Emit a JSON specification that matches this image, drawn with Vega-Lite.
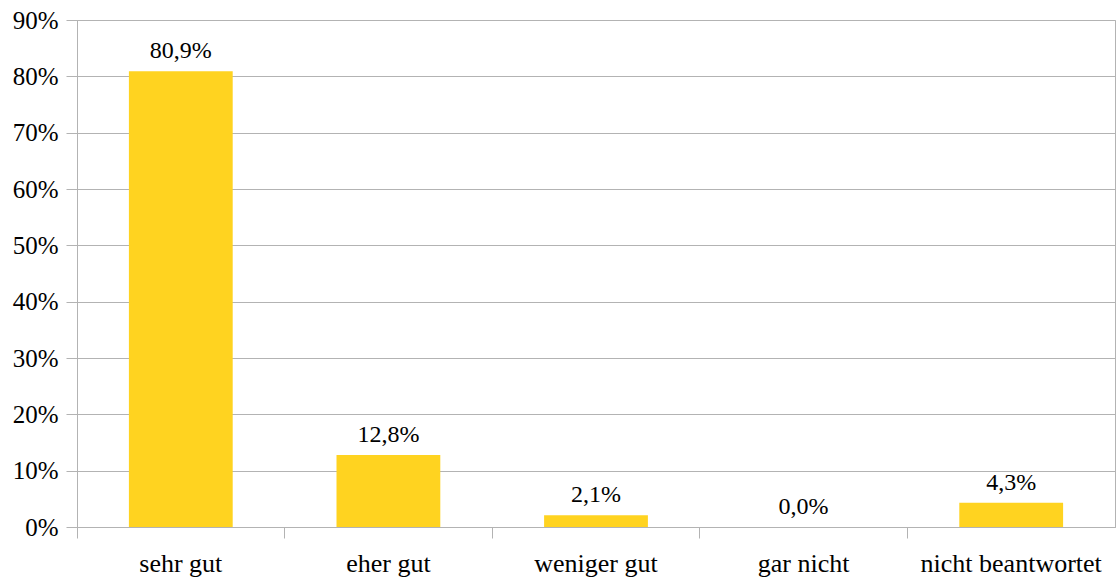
{
  "$schema": "https://vega.github.io/schema/vega-lite/v6.json",
  "width": 1038,
  "height": 507,
  "autosize": "none",
  "padding": {"left": 77, "top": 20, "right": 2, "bottom": 52},
  "background": "white",
  "data": {
    "values": [
      {"antwort": "sehr gut", "anteil": 0.809},
      {"antwort": "eher gut", "anteil": 0.128},
      {"antwort": "weniger gut", "anteil": 0.021},
      {"antwort": "gar nicht", "anteil": 0.0},
      {"antwort": "nicht beantwortet", "anteil": 0.043}
    ]
  },
  "encoding": {
    "x": {
      "field": "antwort",
      "type": "nominal",
      "sort": null,
      "title": null,
      "scale": {"paddingInner": 0.5, "paddingOuter": 0.25},
      "axis": {
        "labelAngle": 0,
        "bandPosition": -0.5,
        "tickSize": 11,
        "labelPadding": 12,
        "labelBaseline": "top",
        "labelFontSize": 26,
        "labelLimit": 400,
        "labelOverlap": false,
        "grid": false
      }
    },
    "y": {
      "field": "anteil",
      "type": "quantitative",
      "title": null,
      "scale": {"domain": [0, 0.9], "nice": false},
      "axis": {
        "format": ".0%",
        "values": [0, 0.1, 0.2, 0.3, 0.4, 0.5, 0.6, 0.7, 0.8, 0.9],
        "tickSize": 11,
        "labelPadding": 8,
        "labelFontSize": 25,
        "grid": true
      }
    }
  },
  "layer": [
    {"mark": {"type": "bar", "color": "#ffd320"}},
    {
      "mark": {"type": "text", "baseline": "alphabetic", "dy": -13, "font": "Liberation Serif", "fontSize": 24, "color": "#000000"},
      "encoding": {"text": {"field": "anteil", "type": "quantitative", "format": ".1%"}}
    }
  ],
  "config": {
    "locale": {
      "number": {"decimal": ",", "thousands": ".", "grouping": [3], "currency": ["", " €"]}
    },
    "view": {"stroke": "#b3b3b3", "strokeWidth": 1},
    "axis": {
      "labelFont": "Liberation Serif",
      "labelColor": "#000000",
      "domainColor": "#b3b3b3",
      "tickColor": "#b3b3b3",
      "gridColor": "#b3b3b3",
      "domainWidth": 1,
      "tickWidth": 1,
      "gridWidth": 1
    }
  }
}
